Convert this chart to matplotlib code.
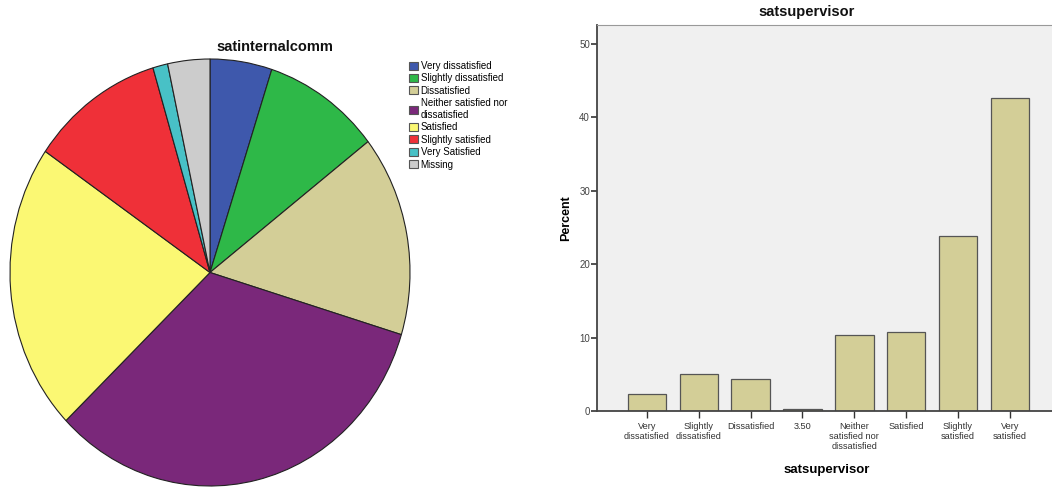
import matplotlib
matplotlib.use("Agg")
import matplotlib.pyplot as plt
from matplotlib.patches import Patch

W, H = 1052, 487

# pie: satinternalcomm (percent of respondents)
pie_labels = [
    "Very dissatisfied",
    "Slightly dissatisfied",
    "Dissatisfied",
    "Neither satisfied nor\ndissatisfied",
    "Satisfied",
    "Slightly satisfied",
    "Very Satisfied",
    "Missing",
]
pie_values = [5.0, 9.5, 15.2, 33.1, 21.8, 10.8, 1.2, 3.4]
pie_colors = ["#3e58ac", "#2eb848", "#d3ce97", "#7a287a", "#fbf873", "#ef3038", "#48c1c6", "#cccccc"]

# bars: satsupervisor
bar_labels = [
    "Very\ndissatisfied",
    "Slightly\ndissatisfied",
    "Dissatisfied",
    "3.50",
    "Neither\nsatisfied nor\ndissatisfied",
    "Satisfied",
    "Slightly\nsatisfied",
    "Very\nsatisfied",
]
bar_values = [2.3, 5.1, 4.4, 0.3, 10.3, 10.8, 23.8, 42.6]
y_ticks = [0, 10, 20, 30, 40, 50]

plt.rcParams["font.family"] = ["Liberation Sans", "DejaVu Sans"]


def px_axes(fig, left, top, right, bottom):
    return fig.add_axes([left / W, 1 - bottom / H, (right - left) / W, (bottom - top) / H])


fig = plt.figure(figsize=(W / 100, H / 100), dpi=100)

# ---- pie ----
ax_pie = px_axes(fig, 10, 59, 410, 486)
wedges, _ = ax_pie.pie(
    pie_values,
    colors=pie_colors,
    startangle=90,
    counterclock=False,
    radius=1.0,
    wedgeprops=dict(edgecolor="#222222", linewidth=0.8),
)
ax_pie.set_aspect("auto")
ax_pie.set_xlim(-1.0, 1.0)
ax_pie.set_ylim(-1.0, 1.0)
ax_pie.axis("off")
fig.text(275 / W, 1 - 47 / H, "satinternalcomm", ha="center", va="center",
         fontsize=10.5, fontweight="bold", color="#111111")

handles = [Patch(facecolor=c, edgecolor="#555555", linewidth=0.8) for c in pie_colors]
fig.legend(
    handles, pie_labels,
    loc="upper left",
    bbox_to_anchor=(407 / W, 1 - 59 / H),
    frameon=False,
    fontsize=7,
    handlelength=0.9,
    handleheight=0.9,
    handletextpad=0.3,
    labelspacing=0.25,
    borderaxespad=0,
    borderpad=0.2,
)

# ---- bar chart ----
ax = px_axes(fig, 597, 25, 1056, 411)
ax.set_facecolor("#f0f0f0")
x = range(len(bar_values))
ax.bar(x, bar_values, width=0.745, color="#d3ce97", edgecolor="#555555", linewidth=0.9)
ax.set_xlim(-0.964, 7.89)
ax.set_ylim(0, 52.6)
ax.set_yticks(y_ticks)
ax.set_xticks(list(x))
ax.set_xticklabels(bar_labels, fontsize=6.6, color="#333333", linespacing=1.15,
                   family=["Liberation Sans Narrow", "Liberation Sans", "DejaVu Sans"])
ax.tick_params(axis="y", labelsize=7, labelcolor="#444444", length=4, width=1.2, color="#333333", pad=1)
ax.tick_params(axis="x", length=5, width=1, color="#333333", pad=3)
ax.spines["right"].set_visible(False)
ax.spines["top"].set_color("#999999")
ax.spines["top"].set_linewidth(0.8)
for side in ("left", "bottom"):
    ax.spines[side].set_color("#444444")
    ax.spines[side].set_linewidth(1.3)
ax.set_ylabel("Percent", fontsize=9, fontweight="bold", labelpad=5)
ax.set_xlabel("satsupervisor", fontsize=9.5, fontweight="bold", labelpad=9)
fig.text(807 / W, 1 - 12 / H, "satsupervisor", ha="center", va="center",
         fontsize=10.5, fontweight="bold", color="#111111")

fig.savefig("out.png", dpi=100, facecolor="white")
